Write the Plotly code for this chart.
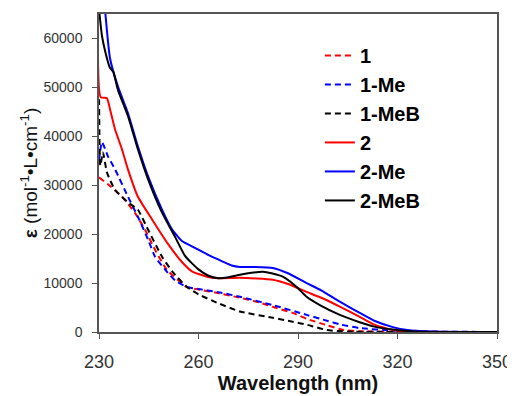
import plotly.graph_objects as go

# ---- data ----
wl_1 = [230, 232.7, 236.9, 240.8, 243.9, 246.9, 250.5, 256.5, 260, 265.5, 272.5, 278.5, 283, 288.4, 293, 298.7, 303.7, 310, 320, 350]
eps_1 = [31600, 30200, 27700, 24400, 20900, 16800, 12700, 9200, 8700, 8000, 7000, 6000, 5000, 3900, 2600, 1400, 400, 100, 0, 0]

wl_1me = [230, 230.9, 232.7, 234.8, 238.7, 241.7, 244.8, 246.9, 250.5, 253, 256.5, 260, 265.5, 272.5, 282.4, 292.6, 298.7, 303, 308.6, 318.6, 330, 350]
eps_1me = [35000, 38800, 35900, 33300, 27700, 23600, 18900, 15400, 12300, 10500, 9200, 8800, 8200, 7200, 5500, 3500, 2300, 1500, 800, 300, 100, 0]

wl_1meb = [230, 230.4, 231.2, 232.4, 234.8, 238.7, 241.7, 244.8, 249, 252.3, 256.5, 260, 265.5, 272.5, 282.4, 288.4, 292.6, 298.7, 305, 350]
eps_1meb = [49700, 34000, 36700, 32600, 29100, 26500, 25000, 20900, 15400, 12200, 9200, 7700, 6000, 4200, 2900, 2100, 1500, 400, 100, 0]

wl_2 = [230, 230.5, 232.4, 233.3, 234.8, 236.9, 238.7, 241.7, 246, 250.8, 255, 258, 262.5, 266, 272.5, 282.4, 287, 292.6, 297, 302.6, 308.6, 313, 318.6, 325, 350]
eps_2 = [80000, 48000, 47800, 45600, 41500, 37400, 33300, 27700, 23000, 18000, 14300, 12400, 11300, 11000, 11100, 10700, 9800, 8200, 7000, 5200, 3100, 1500, 400, 100, 0]

wl_2me = [230, 231.8, 233.3, 235.7, 238.7, 241.7, 244.8, 249, 252, 255, 258.9, 263.4, 267.3, 270, 272.5, 277, 282.4, 287, 292.6, 297, 302.6, 308.6, 313, 318.6, 323, 330, 350]
eps_2me = [80000, 66000, 56000, 50200, 44800, 38000, 31800, 25000, 21000, 18600, 17200, 15600, 14400, 13600, 13300, 13300, 13100, 12000, 10000, 8500, 6200, 3900, 2300, 1000, 400, 100, 0]

wl_2meb = [230, 230.9, 232, 233.3, 234.3, 235.7, 238.7, 241.7, 244.8, 249, 252.9, 256, 260, 263, 266, 269, 272.5, 276, 279.4, 282, 285.4, 289.6, 292.6, 296.6, 302.6, 308.6, 313, 318.6, 325, 335, 350]
eps_2meb = [66000, 60500, 57000, 54000, 53200, 49500, 44200, 37400, 31200, 24400, 19500, 15500, 12800, 11500, 11000, 11200, 11700, 12100, 12300, 12000, 11300, 9200, 7200, 5500, 3500, 2000, 1100, 500, 100, 0, 0]

x_ticks = [230, 260, 290, 320, 350]
y_ticks = [0, 10000, 20000, 30000, 40000, 50000, 60000]

series = [
    ("1", wl_1, eps_1, "#ff0000", "dash"),
    ("1-Me", wl_1me, eps_1me, "#0000ff", "dash"),
    ("1-MeB", wl_1meb, eps_1meb, "#000000", "dash"),
    ("2", wl_2, eps_2, "#ff0000", "solid"),
    ("2-Me", wl_2me, eps_2me, "#0000ff", "solid"),
    ("2-MeB", wl_2meb, eps_2meb, "#000000", "solid"),
]

FONT = "Liberation Sans, Arial, sans-serif"

fig = go.Figure()
for name, x, y, color, dash in series:
    fig.add_trace(go.Scatter(
        x=x, y=y, name=name, mode="lines",
        line=dict(color=color, width=2, dash="6px,4px" if dash == "dash" else "solid",
                  shape="spline", smoothing=0.5),
    ))

fig.update_layout(
    width=515, height=396,
    margin=dict(l=91, r=26, t=6, b=72, autoexpand=False),
    paper_bgcolor="white", plot_bgcolor="white",
    font=dict(family=FONT, color="#000"),
    showlegend=True,
    legend=dict(
        x=0.555, y=0.931, xanchor="left", yanchor="top",
        font=dict(size=20, family=FONT, color="#000", weight="bold"),
        bgcolor="rgba(0,0,0,0)", borderwidth=0,
    ),
    xaxis=dict(
        range=[230, 350], tickvals=x_ticks, ticktext=[str(v) for v in x_ticks],
        showgrid=False, zeroline=False, showline=True, linecolor="#555", linewidth=1.5,
        mirror=True, ticks="outside", ticklen=5, tickcolor="#555",
        ticklabelstandoff=8, automargin=False,
        tickfont=dict(size=18, color="#333", family=FONT),
        title=dict(text="<b>Wavelength (nm)</b>", font=dict(size=20, family=FONT, color="#111"), standoff=2),
    ),
    yaxis=dict(
        range=[0, 65000], tickvals=y_ticks, ticktext=[str(v) for v in y_ticks],
        showgrid=False, zeroline=False, showline=True, linecolor="#555", linewidth=1.5,
        mirror=True, ticks="outside", ticklen=5, tickcolor="#555",
        ticklabelstandoff=7, automargin=False,
        tickfont=dict(size=14, color="#333", family=FONT),
        title=dict(text="<b>ε</b> (mol<sup>-1</sup>•L•cm<sup>-1</sup>)",
                   font=dict(size=19, family=FONT, color="#111"), standoff=1),
    ),
)

fig.write_html("out.html")
